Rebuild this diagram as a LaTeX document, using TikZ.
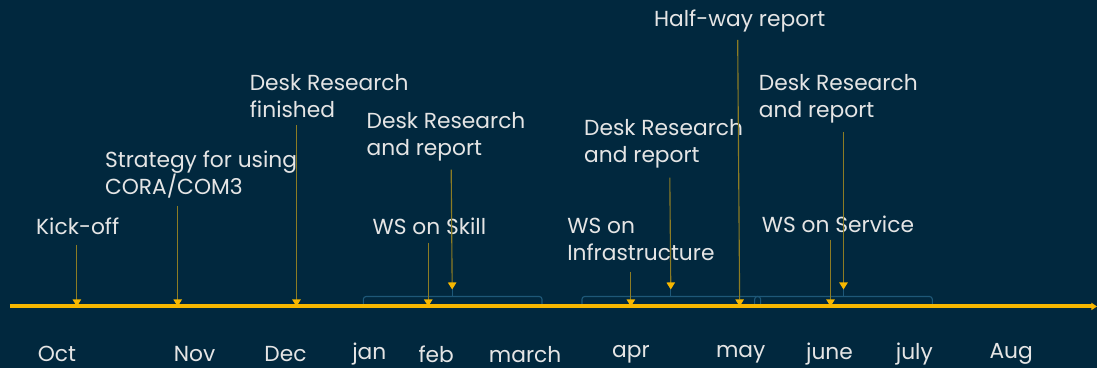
\documentclass[tikz,border=0pt]{standalone}
\usepackage{fontspec}
\setmainfont{Poppins}
\usetikzlibrary{arrows.meta}
\definecolor{navy}{RGB}{1,40,62}
\definecolor{gold}{RGB}{247,183,0}
\definecolor{stem}{RGB}{140,124,36}
\definecolor{brc}{RGB}{30,88,120}
\tikzset{
  lbl/.style={text=white!90!black, font=\fontsize{15.5}{19.2}\selectfont, align=left, inner sep=0pt},
  evt/.style={draw=stem, line width=0.8pt, -{Triangle[color=gold, length=5pt, width=6pt]}},
  span/.style={draw=brc, line width=0.8pt, rounded corners=2pt}
}

\begin{document}
\begin{tikzpicture}[x=0.025cm, y=-0.025cm]
  %%%%% START %%%%%
  \fill[navy] (0,0) rectangle (1099,369);

  % braces above the line
  \draw[span] (364,307) -- (364,297) -- (543,297) -- (543,307);
  \draw[span] (453,297) -- (453,290);
  \draw[span] (583,307) -- (583,297) -- (762,297) -- (762,307);
  \draw[span] (672,297) -- (672,290);
  \draw[span] (756,307) -- (756,297) -- (934,297) -- (934,307);
  \draw[span] (845,297) -- (845,290);

  % time line
  \coordinate (start) at (10,307);
  \coordinate (stop) at (1099,307);
  \draw[gold, line width=2.8pt, -{Triangle[length=4pt, width=5pt]}] (start) -- (stop);

  % months
  \foreach \m/\x in {Oct/57, Nov/195, Dec/286, jan/370, feb/437, march/526,
                     apr/632, may/742, june/831, july/916, Aug/1013}
    \node[lbl] (m-\m) at (\x,355) {\m};

  % events
  \node[lbl, anchor=west] (kickoff) at (36,227) {Kick-off};
  \node[lbl, anchor=west] (strategy) at (105,175) {Strategy for using\\CORA/COM3};
  \node[lbl, anchor=west] (deskdone) at (250,96) {Desk Research\\finished};
  \node[lbl, anchor=west] (deskone) at (367,137) {Desk Research\\and report};
  \node[lbl, anchor=west] (skill) at (373,227) {WS on Skill};
  \node[lbl, anchor=west] (infra) at (568,240) {WS on\\Infrastructure};
  \node[lbl, anchor=west] (desktwo) at (585,144) {Desk Research\\and report};
  \node[lbl, anchor=west] (halfway) at (655,21) {Half-way report};
  \node[lbl, anchor=west] (deskthree) at (760,99) {Desk Research\\and report};
  \node[lbl, anchor=west] (service) at (763,225) {WS on Service};

  \coordinate (a1) at (77,245);   \coordinate (b1) at (77,307);
  \coordinate (a2) at (178,206);  \coordinate (b2) at (178,307);
  \coordinate (a3) at (297,125);  \coordinate (b3) at (297,307);
  \coordinate (a4) at (429,243);  \coordinate (b4) at (429,307);
  \coordinate (a5) at (452,170);  \coordinate (b5) at (453,290);
  \coordinate (a6) at (632,272);  \coordinate (b6) at (632,307);
  \coordinate (a7) at (671,178);  \coordinate (b7) at (672,290);
  \coordinate (a8) at (739,40);   \coordinate (b8) at (741,307);
  \coordinate (a9) at (832,240);  \coordinate (b9) at (832,307);
  \coordinate (a10) at (845,132); \coordinate (b10) at (845,290);
  \foreach \i in {1,...,10}
    \draw[evt] (a\i) -- (b\i);
  %%%%% END %%%%%
\end{tikzpicture}
\end{document}
